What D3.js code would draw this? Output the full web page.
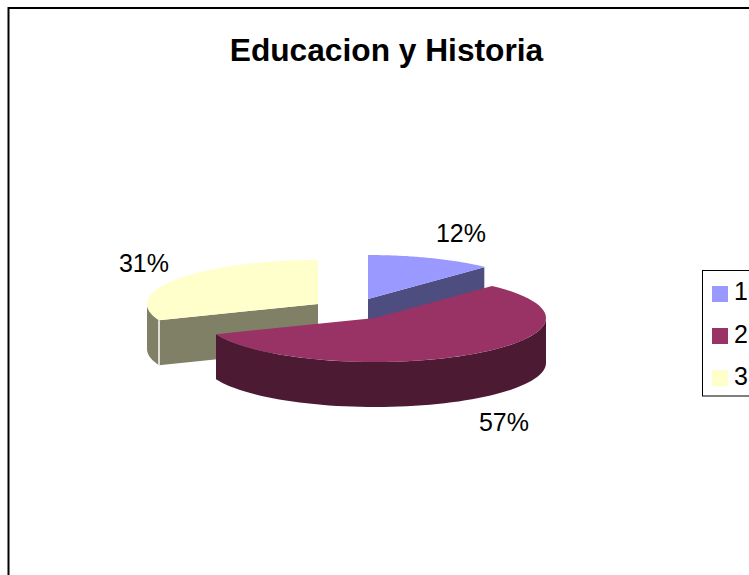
<!DOCTYPE html>
<html><head><meta charset="utf-8">
<script src="https://cdn.jsdelivr.net/npm/d3@7/dist/d3.min.js"></script>
<style>html,body{margin:0;padding:0;background:#fff}svg{display:block}text{font-family:"Liberation Sans",Arial,sans-serif;fill:#000}</style>
</head><body><script>
const categories = ["1","2","3"];
const values = [12,57,31];
const labels = ["12%","57%","31%"];
const topColors = ["#9999ff","#993366","#ffffcc"];
const wallColors = ["#4d4d80","#4d1a33","#808066"];
const apexX = [368,375,318];
const apexY = [299,318,304];
const labelX = [461,504,144];
const labelY = [242,431,272];
const legendY = [294,336,378];
const legendBaseline = [300,342.5,385];
const W=749,H=575,R=171,RY=44,DEPTH=45;

const svg=d3.select("body").append("svg").attr("width",W).attr("height",H);
svg.append("rect").attr("x",8.5).attr("y",8).attr("width",W+20).attr("height",H+20)
  .attr("fill","#fff").attr("stroke","#000").attr("stroke-width",2);

svg.append("text").attr("x",386.5).attr("y",61).attr("text-anchor","middle")
  .attr("font-weight","bold").attr("font-size",31.7).text("Educacion y Historia");

const arcs=d3.pie().sort(null)(values);
const line=d3.line();
const pt=(i,a,dz=0)=>[apexX[i]+R*Math.sin(a),apexY[i]-RY*Math.cos(a)+dz];
const sampled=(i,a0,a1,dz)=>d3.range(0,61).map(k=>pt(i,a0+(a1-a0)*k/60,dz));

function drawSlice(i){
  const d=arcs[i],g=svg.append("g");
  const c=[apexX[i],apexY[i]];
  const lo=Math.max(d.startAngle,Math.PI/2),hi=Math.min(d.endAngle,3*Math.PI/2);
  if(hi>lo){
    const top=sampled(i,lo,hi,0),bot=sampled(i,lo,hi,DEPTH).reverse();
    g.append("path").attr("d",line(top.concat(bot))+"Z").attr("fill",wallColors[i]);
  }
  [d.startAngle,d.endAngle].forEach(a=>{
    const facesFront=(a===d.endAngle&&a<Math.PI)||(a===d.startAngle&&a>Math.PI);
    if(facesFront){
      const e=pt(i,a);
      g.append("path").attr("d",line([c,e,[e[0],e[1]+DEPTH],[c[0],c[1]+DEPTH]])+"Z")
        .attr("fill",wallColors[i]);
      g.append("line").attr("x1",e[0]).attr("x2",e[0]).attr("y1",e[1]).attr("y2",e[1]+DEPTH)
        .attr("stroke","#fff").attr("stroke-width",1.5);
    }
  });
  g.append("path")
    .attr("d",line([c].concat(sampled(i,d.startAngle,d.endAngle,0)))+"Z")
    .attr("fill",topColors[i]);
}
[2,0,1].forEach(drawSlice);

labels.forEach((t,i)=>svg.append("text").attr("x",labelX[i]).attr("y",labelY[i])
  .attr("text-anchor","middle").attr("font-size",25).text(t));

svg.append("rect").attr("x",702.5).attr("y",270.5).attr("width",60).attr("height",125.5)
  .attr("fill","#fff").attr("stroke","#000");
categories.forEach((t,i)=>{
  svg.append("rect").attr("x",712).attr("y",legendY[i]-8).attr("width",16).attr("height",16).attr("fill",topColors[i]);
  svg.append("text").attr("x",734).attr("y",legendBaseline[i]).attr("font-size",25).text(t);
});
</script></body></html>
